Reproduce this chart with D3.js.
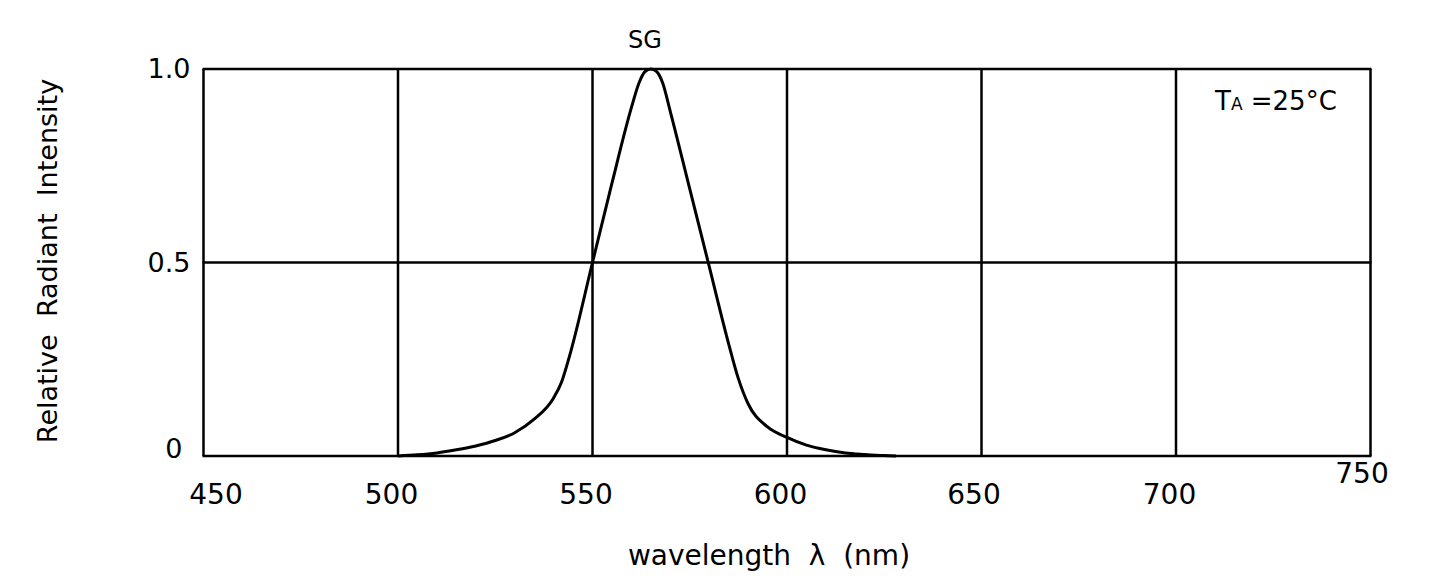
<!DOCTYPE html>
<html><head><meta charset="utf-8">
<script src="https://cdn.jsdelivr.net/npm/d3@7"></script>
<style>body{margin:0;background:#fff}svg text{font-family:"DejaVu Sans",sans-serif;fill:#000}</style>
</head><body><svg id="c" width="1433" height="578"></svg>
<script>
const wavelengths = [500,505,510,515,520,525,530,535,540,542,544,550,555,560,562,563.5,565,566.5,568,570,575,580,585,587.5,590,595,600,605,610,615,620,625,628];
const intensity  = [0,0.003,0.008,0.016,0.026,0.04,0.06,0.095,0.15,0.19,0.255,0.5,0.705,0.9,0.965,0.993,1.0,0.993,0.965,0.89,0.69,0.49,0.29,0.2,0.135,0.075,0.048,0.028,0.016,0.008,0.004,0.001,0];
const xTicks = [450,500,550,600,650,700,750];
const yTicks = [0,0.5,1.0];
const yTickLabels = ["0","0.5","1.0"];
const FONT = "DejaVu Sans, sans-serif";

const svg = d3.select("#c");
const x = d3.scaleLinear().domain([450,750]).range([203.5,1370.5]);
const y = d3.scaleLinear().domain([0,1]).range([456,69]);

// grid
const g = svg.append("g");
g.selectAll(".vg").data(xTicks).join("line")
  .attr("x1",d=>x(d)).attr("x2",d=>x(d)).attr("y1",y(0)).attr("y2",y(1))
  .attr("stroke","#000").attr("stroke-width",2.5);
g.selectAll(".hg").data(yTicks).join("line")
  .attr("x1",x(450)-1).attr("x2",x(750)+1).attr("y1",d=>y(d)).attr("y2",d=>y(d))
  .attr("stroke","#000").attr("stroke-width",2.5);

// axes (label nudges mimic the original drawing)
const xNudge = {450:12,500:-7,550:-7,600:-7,650:-8,700:-7,750:-9};
const xAxis = svg.append("g").attr("transform",`translate(0,${y(0)})`)
  .call(d3.axisBottom(x).tickValues(xTicks).tickSize(0).tickPadding(28).tickFormat(d3.format("d")));
xAxis.select(".domain").remove();
xAxis.attr("font-family",FONT).attr("font-size",28);
xAxis.selectAll("text").attr("fill","#000").attr("dx",d=>xNudge[d]);
xAxis.selectAll(".tick").filter(d=>d===750).select("text").attr("dy","-0.05em");

const yAxis = svg.append("g").attr("transform",`translate(${x(450)},0)`)
  .call(d3.axisLeft(y).tickValues(yTicks).tickSize(0).tickPadding(13).tickFormat((d,i)=>yTickLabels[i]));
yAxis.select(".domain").remove();
yAxis.attr("font-family",FONT).attr("font-size",27);
yAxis.selectAll("text").attr("fill","#000");
yAxis.selectAll(".tick").filter(d=>d===0).select("text").attr("dx",-8).attr("dy","0.05em");

// curve
const line = d3.line().x((d,i)=>x(wavelengths[i])).y(d=>y(d)).curve(d3.curveMonotoneX);
svg.append("path").datum(intensity).attr("d",line)
  .attr("fill","none").attr("stroke","#000").attr("stroke-width",3).attr("stroke-linejoin","round");

// texts
svg.append("text").attr("x",645).attr("y",48).attr("text-anchor","middle").attr("font-size",24).text("SG");
const t = svg.append("text").attr("x",1215).attr("y",110).attr("font-size",26);
t.append("tspan").text("T");
t.append("tspan").attr("font-size",17).text("A");
t.append("tspan").text(" =25°C");
svg.append("text").attr("x",769).attr("y",565).attr("text-anchor","middle").attr("font-size",28)
  .style("white-space","pre").text("wavelength  λ  (nm)");
svg.append("text").attr("transform","translate(57,261) rotate(-90)").attr("text-anchor","middle").attr("font-size",27)
  .style("white-space","pre").text("Relative  Radiant  Intensity");
</script></body></html>
